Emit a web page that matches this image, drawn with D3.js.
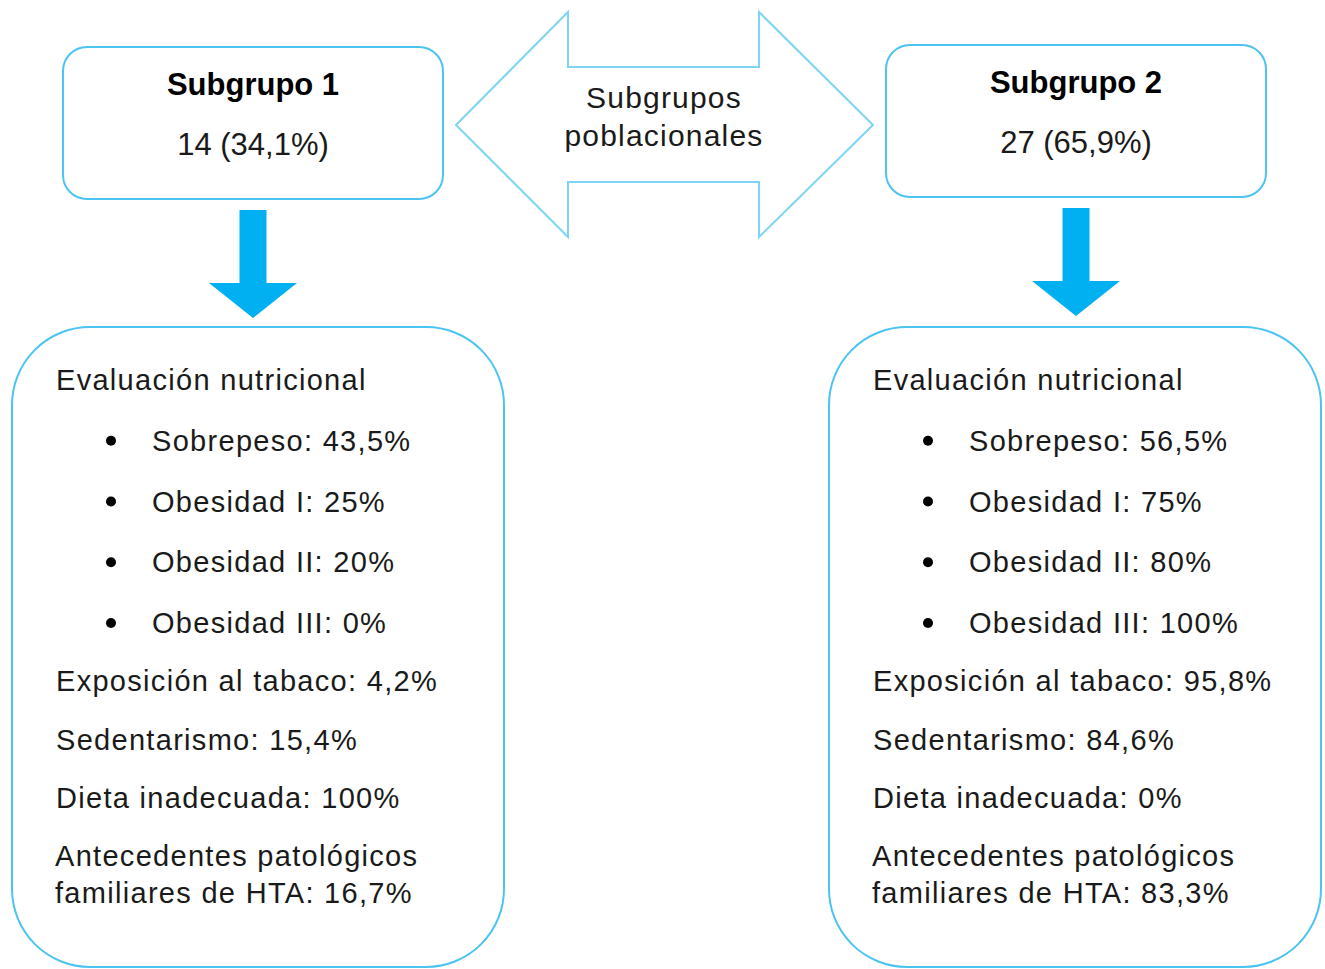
<!DOCTYPE html>
<html>
<head>
<meta charset="utf-8">
<script src="https://cdn.jsdelivr.net/npm/d3@7"></script>
<style>
  html, body { margin: 0; padding: 0; background: #fff; }
  svg { display: block; font-family: "Liberation Sans", Arial, sans-serif; }
</style>
</head>
<body>
<div id="chart"></div>
<script>
// Subgroups and their size
const groups = ["Subgrupo 1", "Subgrupo 2"]
const groupCounts = [14, 27]
const groupShares = [34.1, 65.9]

// Nutritional evaluation (bulleted rows)
const nutritionTitle = "Evaluación nutricional"
const nutritionLabels = ["Sobrepeso:", "Obesidad I:", "Obesidad II:", "Obesidad III:"]
const nutritionValues = [
  [43.5, 25, 20, 0],
  [56.5, 75, 80, 100]
]

// Risk factors (plain rows)
const factorLabels = ["Exposición al tabaco:", "Sedentarismo:", "Dieta inadecuada:", "Antecedentes patológicos|familiares de HTA:"]
const factorValues = [
  [4.2, 15.4, 100, 16.7],
  [95.8, 84.6, 0, 83.3]
]

const centerLabel = ["Subgrupos", "poblacionales"]

const width = 1325
const height = 969
const lineColor = "#4cc4f2"
const arrowLine = "#7dd4f5"
const arrowFill = "#00b0f0"
const textColor = "#1a1a1a"

const pct = v => String(v).replace(".", ",") + "%"

// column offset for each subgroup
const colX = d3.scaleOrdinal().domain(groups).range([0, 817])
const topBoxY = d3.scaleOrdinal().domain(groups).range([47, 45])
// baseline of each text row in the lower boxes
const rowY = d3.scaleLinear().domain([0, 4, 8]).range([390, 633, 866])

const svg = d3.select("#chart")
  .append("svg")
  .attr("width", width)
  .attr("height", height)
  .attr("viewBox", `0 0 ${width} ${height}`)

svg.append("rect").attr("width", width).attr("height", height).attr("fill", "#fff")

// Double arrow in the middle
const dbl = [
  [456, 125], [568, 12], [568, 67], [759, 67], [759, 12],
  [873, 125], [759, 237], [759, 182], [568, 182], [568, 237]
]
svg.append("path")
  .attr("d", d3.line().curve(d3.curveLinearClosed)(dbl))
  .attr("fill", "#fff")
  .attr("stroke", arrowLine)
  .attr("stroke-width", 2)

svg.append("text")
  .attr("text-anchor", "middle")
  .attr("fill", textColor)
  .attr("font-size", "30px")
  .attr("letter-spacing", "1.2px")
  .selectAll("tspan")
  .data(centerLabel)
  .join("tspan")
  .attr("x", 664)
  .attr("y", (d, i) => 108 + i * 38)
  .text(d => d)

groups.forEach((g, gi) => {
  const dx = colX(g)
  const by = topBoxY(g)
  const cx = 253 + dx + (gi ? 6 : 0)

  // Top box
  svg.append("rect")
    .attr("x", 63 + dx + (gi ? 6 : 0)).attr("y", by)
    .attr("width", 380).attr("height", 152)
    .attr("rx", 24)
    .attr("fill", "#fff")
    .attr("stroke", lineColor)
    .attr("stroke-width", 2)

  svg.append("text")
    .attr("x", cx).attr("y", by + 48)
    .attr("text-anchor", "middle")
    .attr("font-size", "31px")
    .attr("font-weight", "bold")
    .attr("fill", "#000")
    .text(g)

  svg.append("text")
    .attr("x", cx).attr("y", by + 108)
    .attr("text-anchor", "middle")
    .attr("font-size", "31px")
    .attr("fill", textColor)
    .text(`${groupCounts[gi]} (${pct(groupShares[gi])})`)

  // Down arrow
  const ay = by + 163
  const down = [
    [cx - 13.5, ay], [cx + 13.5, ay], [cx + 13.5, ay + 73], [cx + 44, ay + 73],
    [cx, ay + 108], [cx - 44, ay + 73], [cx - 13.5, ay + 73]
  ]
  svg.append("path")
    .attr("d", d3.line().curve(d3.curveLinearClosed)(down))
    .attr("fill", arrowFill)

  // Lower box
  svg.append("rect")
    .attr("x", 12 + dx).attr("y", 327)
    .attr("width", 492).attr("height", 640)
    .attr("rx", 78)
    .attr("fill", "#fff")
    .attr("stroke", lineColor)
    .attr("stroke-width", 2)

  const body = svg.append("g")
    .attr("font-size", "29px")
    .attr("letter-spacing", "1.3px")
    .attr("fill", textColor)

  body.append("text")
    .attr("x", 56 + dx).attr("y", rowY(0))
    .text(nutritionTitle)

  nutritionLabels.forEach((lab, i) => {
    const y = rowY(i + 1)
    body.append("circle")
      .attr("cx", 111 + dx).attr("cy", y - 10)
      .attr("r", 5)
      .attr("fill", "#000")
    body.append("text")
      .attr("x", 152 + dx).attr("y", y)
      .text(`${lab} ${pct(nutritionValues[gi][i])}`)
  })

  factorLabels.forEach((lab, i) => {
    const parts = lab.split("|")
    const y = rowY(i + 5)
    const t = body.append("text")
    parts.forEach((p, j) => {
      const last = j === parts.length - 1
      t.append("tspan")
        .attr("x", 56 + dx - (parts.length > 1 ? 1 : 0))
        .attr("y", y + j * 37)
        .text(last ? `${p} ${pct(factorValues[gi][i])}` : p)
    })
  })
})
</script>
</body>
</html>
